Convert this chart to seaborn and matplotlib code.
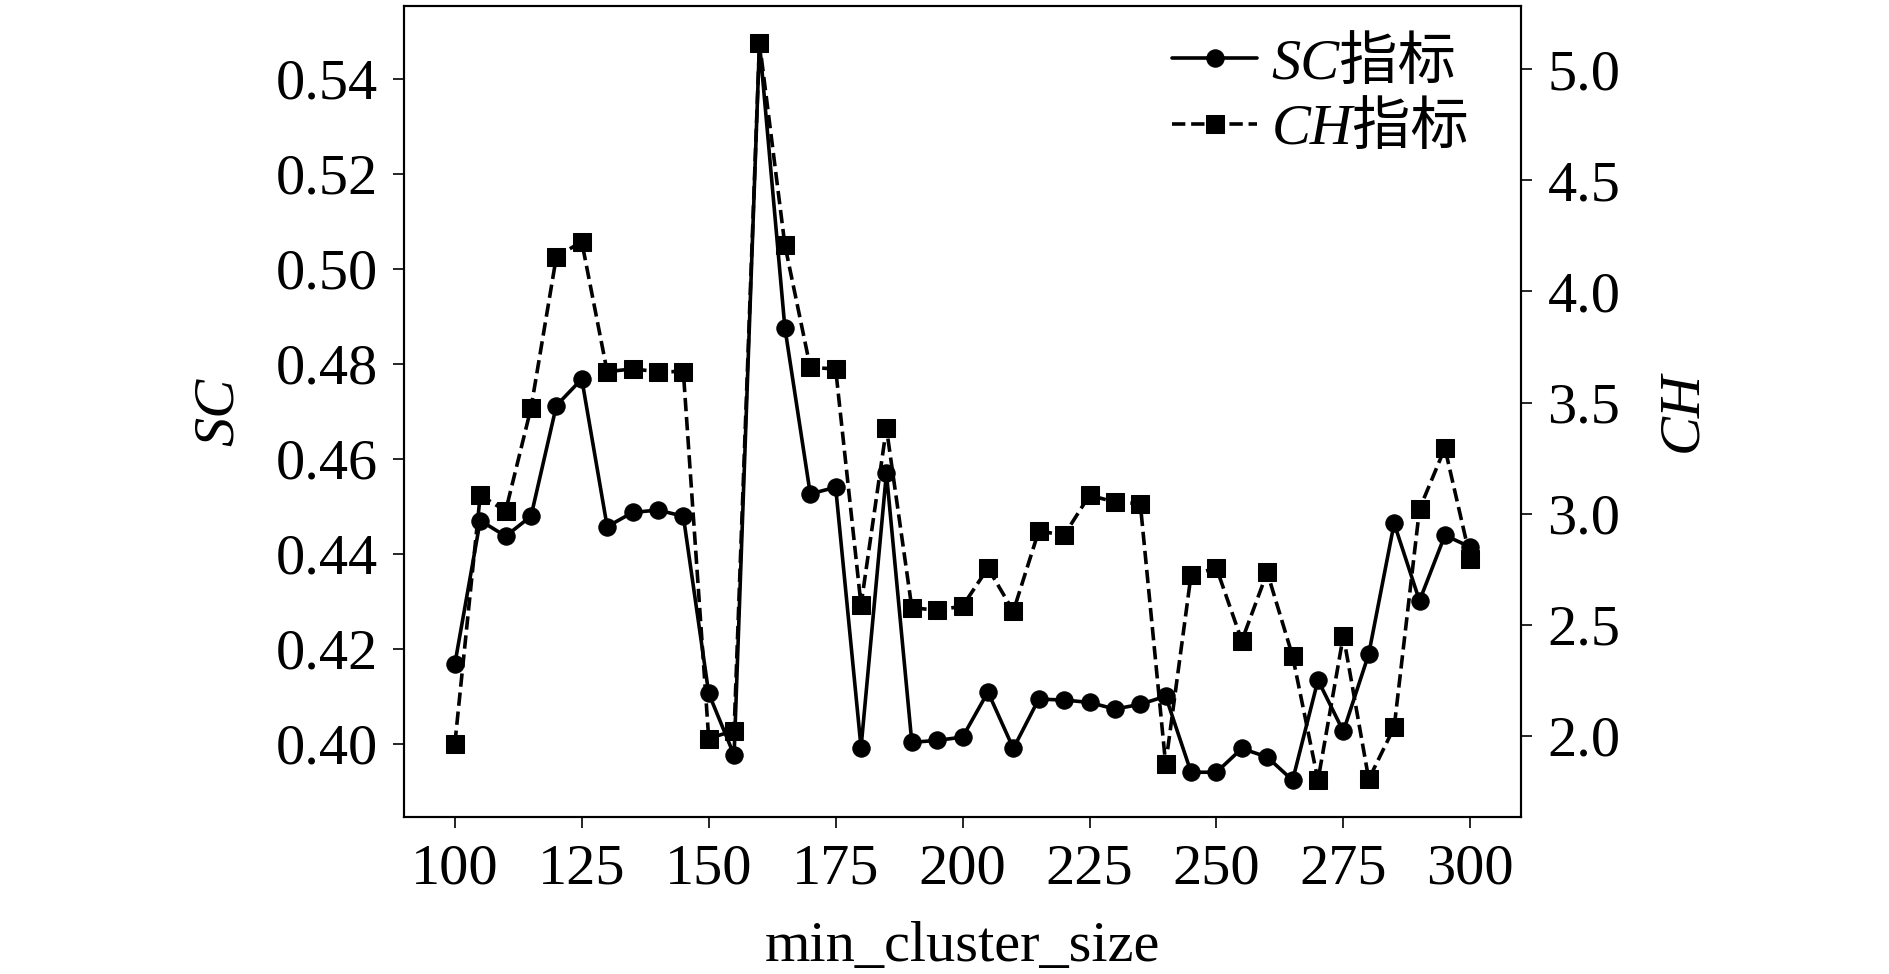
import numpy as np
import pandas as pd
import matplotlib
matplotlib.use("Agg")
import matplotlib.pyplot as plt
import seaborn as sns

# min_cluster_size vs SC / CH scores
cluster_size = [100, 105, 110, 115, 120, 125, 130, 135, 140, 145,
                150, 155, 160, 165, 170, 175, 180, 185, 190, 195,
                200, 205, 210, 215, 220, 225, 230, 235, 240, 245,
                250, 255, 260, 265, 270, 275, 280, 285, 290, 295, 300]
sc_score = [0.4168, 0.4470, 0.4437, 0.4479, 0.4712, 0.4768, 0.4457, 0.4487, 0.4492, 0.4479,
            0.4106, 0.3976, 0.5476, 0.4876, 0.4526, 0.4540, 0.3992, 0.4570, 0.4003, 0.4007,
            0.4014, 0.4109, 0.3990, 0.4094, 0.4092, 0.4087, 0.4073, 0.4083, 0.4100, 0.3940,
            0.3940, 0.3990, 0.3972, 0.3923, 0.4134, 0.4026, 0.4189, 0.4464, 0.4301, 0.4439, 0.4414]
ch_score = [1.964, 3.083, 3.012, 3.475, 4.157, 4.223, 3.639, 3.651, 3.639, 3.639,
            1.988, 2.024, 5.119, 4.209, 3.658, 3.651, 2.589, 3.385, 2.577, 2.565,
            2.584, 2.755, 2.561, 2.922, 2.903, 3.083, 3.052, 3.045, 1.872, 2.724,
            2.755, 2.428, 2.736, 2.359, 1.800, 2.451, 1.805, 2.038, 3.021, 3.295, 2.798]

df = pd.DataFrame({"size": cluster_size, "SC": sc_score, "CH": ch_score})

sns.set_style("ticks")
fonts = ["Liberation Serif", "Noto Sans CJK SC"]
plt.rcParams["font.family"] = fonts
plt.rcParams["font.size"] = 42
plt.rcParams["text.color"] = "black"
plt.rcParams["axes.labelcolor"] = "black"
plt.rcParams["axes.edgecolor"] = "black"
plt.rcParams["axes.linewidth"] = 1.5

fig = plt.figure(figsize=(18.9, 9.74), dpi=100)
ax = fig.add_axes([0.2138, 0.161, 0.591, 0.833])
ax2 = ax.twinx()

sns.lineplot(data=df, x="size", y="SC", ax=ax, color="black", marker="o",
             markersize=12.5, mec="black", mfc="black", linewidth=2.6,
             label="SC指标")
sns.lineplot(data=df, x="size", y="CH", ax=ax2, color="black", marker="s",
             markersize=12.5, mec="black", mfc="black", linewidth=2.6,
             linestyle="--", label="CH指标")

ax.set_xticks([100, 125, 150, 175, 200, 225, 250, 275, 300])
sc_ticks = [0.40, 0.42, 0.44, 0.46, 0.48, 0.50, 0.52, 0.54]
ax.set_yticks(sc_ticks)
ax.set_yticklabels([f"{v:.2f}" for v in sc_ticks])
ch_ticks = [2.0, 2.5, 3.0, 3.5, 4.0, 4.5, 5.0]
ax2.set_yticks(ch_ticks)
ax2.set_yticklabels([f"{v:.1f}" for v in ch_ticks])

for a in (ax, ax2):
    a.tick_params(axis="both", labelsize=42, length=8, width=1.2, pad=11,
                  direction="out", colors="black")

ax.set_xlabel("min_cluster_size", fontsize=42, labelpad=18)
ax.set_ylabel("SC", fontsize=42, style="italic", labelpad=22)
ax2.set_ylabel("CH", fontsize=42, style="italic", labelpad=26)

h1, l1 = ax.get_legend_handles_labels()
h2, l2 = ax2.get_legend_handles_labels()
ax.get_legend().remove()
ax2.get_legend().remove()
leg = ax2.legend(h1 + h2, l1 + l2, loc="upper right", bbox_to_anchor=(0.985, 1.005),
                 frameon=False, prop={"family": fonts, "size": 42, "style": "italic"},
                 handlelength=1.45, handletextpad=0.25,
                 labelspacing=0.2, borderaxespad=0.2)

plt.savefig("out.png", dpi=100)
plt.close()
